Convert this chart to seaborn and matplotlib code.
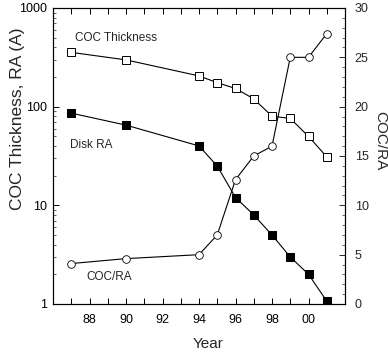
import matplotlib
matplotlib.use("Agg")
import matplotlib.pyplot as plt
import seaborn as sns
import pandas as pd
from matplotlib.ticker import MultipleLocator, FixedLocator, FuncFormatter, LogLocator, NullFormatter

years = [87, 90, 94, 95, 96, 97, 98, 99, 100, 101]
coc_thickness = [355, 298, 205, 175, 153, 120, 80, 76, 50, 31]
disk_ra = [86, 65, 40, 25, 12, 8, 5, 3.0, 2.0, 1.07]
coc_ra = [4.1, 4.6, 5.0, 7.0, 12.6, 15.0, 16.0, 25.0, 25.0, 27.4]

sns.set_style("ticks")
plt.rcParams["font.family"] = ["Liberation Sans", "DejaVu Sans"]

df = pd.DataFrame({"Year": years, "COC": coc_thickness, "RA": disk_ra, "COCRA": coc_ra})

fig = plt.figure(figsize=(3.88, 3.53), dpi=100)
ax = fig.add_axes([53/388, 1-304/353, (345-53)/388, (304-8)/353])
ax2 = ax.twinx()

sns.lineplot(data=df, x="Year", y="COC", ax=ax, color="black", linewidth=0.8,
             marker="s", markersize=5.5, markerfacecolor="white", markeredgecolor="black",
             markeredgewidth=0.7)
sns.lineplot(data=df, x="Year", y="RA", ax=ax, color="black", linewidth=0.8,
             marker="s", markersize=6, markerfacecolor="black", markeredgecolor="black")
sns.lineplot(data=df, x="Year", y="COCRA", ax=ax2, color="black", linewidth=0.8,
             marker="o", markersize=5.5, markerfacecolor="white", markeredgecolor="black",
             markeredgewidth=0.6)

ax.set_yscale("log")
ax.set_ylim(1, 1000)
ax.set_xlim(86, 102)
ax2.set_ylim(0, 30)

ax.xaxis.set_major_locator(MultipleLocator(1))
ax.xaxis.set_major_formatter(FuncFormatter(lambda v, p: ("%02d" % (int(round(v)) % 100)) if int(round(v)) % 2 == 0 and 88 <= v <= 100 else ""))
ax.yaxis.set_major_locator(FixedLocator([1, 10, 100, 1000]))
ax.yaxis.set_major_formatter(FuncFormatter(lambda v, p: "%d" % v))
ax.yaxis.set_minor_locator(LogLocator(base=10, subs=range(2, 10)))
ax.yaxis.set_minor_formatter(NullFormatter())
ax2.yaxis.set_major_locator(MultipleLocator(5))
ax2.yaxis.set_minor_locator(MultipleLocator(1))

for a in (ax, ax2):
    for s in a.spines.values():
        s.set_visible(True)
        s.set_linewidth(0.8)
        s.set_color("black")
ax.tick_params(axis="x", which="major", direction="in", length=4, width=0.7,
               labelsize=9, top=True, colors="black", pad=7)
ax.tick_params(axis="y", which="major", direction="in", length=4, width=0.7,
               labelsize=9, colors="black", pad=4)
ax.tick_params(axis="y", which="minor", direction="in", length=2, width=0.5)
ax2.tick_params(axis="y", which="major", direction="in", length=4, width=0.7, labelsize=9, pad=7)
ax2.tick_params(axis="y", which="minor", direction="in", length=2, width=0.5)

ax.set_xlabel("Year", fontsize=11, va="top")
ax.xaxis.set_label_coords((208-53)/292, -(337-304)/296)
ax.set_ylabel("COC Thickness, RA (A)", fontsize=12.5, va="center")
ax.yaxis.set_label_coords(-(53-18)/292, (304-118.5)/296)
ax2.set_ylabel("COC/RA", fontsize=11, rotation=270, va="center")
ax2.yaxis.set_label_coords((380-53)/292, (304-141)/296)

ax.text(87.2, 500, "COC Thickness", fontsize=8.5, va="center", ha="left")
ax.text(86.95, 41, "Disk RA", fontsize=8.5, va="center", ha="left")
ax.text(87.85, 1.88, "COC/RA", fontsize=8.5, va="center", ha="left")

fig.savefig("out.png", dpi=100)
